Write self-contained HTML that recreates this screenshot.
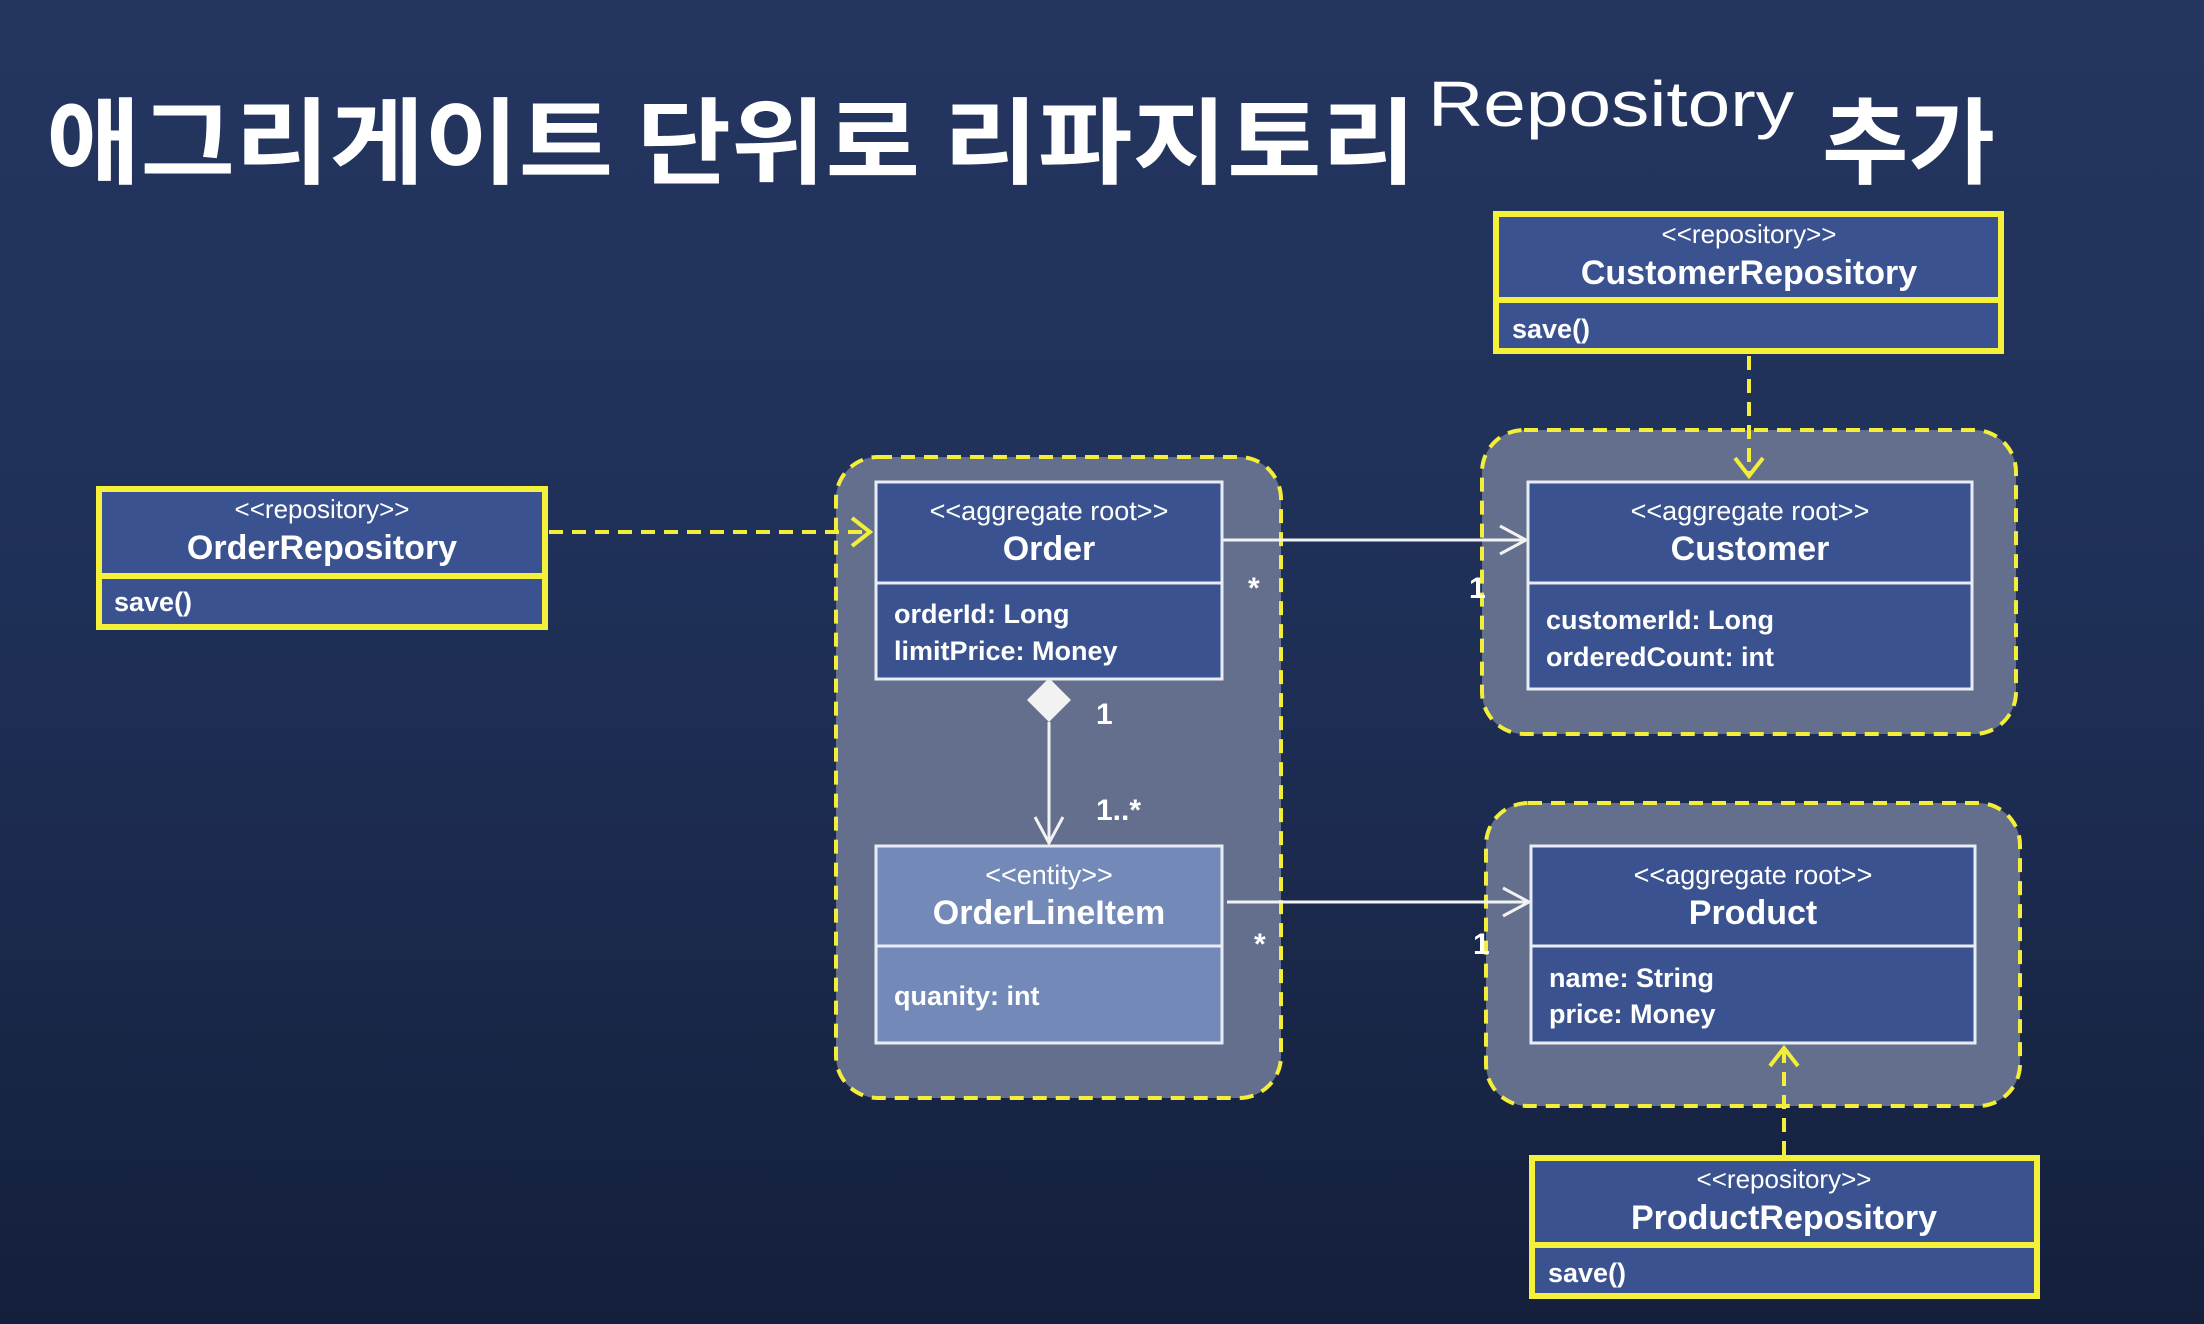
<!DOCTYPE html>
<html><head><meta charset="utf-8"><style>
html,body{margin:0;padding:0;}
body{width:2204px;height:1324px;overflow:hidden;background:linear-gradient(180deg,#24365f 0%,#1f3058 45%,#141f3b 100%);font-family:"Liberation Sans","Noto Sans CJK KR",sans-serif;}
svg{position:absolute;left:0;top:0;}
</style></head><body>
<svg width="2204" height="1324" viewBox="0 0 2204 1324" xmlns="http://www.w3.org/2000/svg" font-family="Liberation Sans, Noto Sans CJK KR, sans-serif">
<text x="46" y="176" fill="#fff" font-size="94" font-weight="bold" font-family="Noto Sans CJK KR, sans-serif" textLength="1370" lengthAdjust="spacingAndGlyphs">애그리게이트 단위로 리파지토리</text>
<text x="1428" y="126" fill="#fff" font-size="64" textLength="366" lengthAdjust="spacingAndGlyphs">Repository</text>
<text x="1822" y="176" fill="#fff" font-size="94" font-weight="bold" font-family="Noto Sans CJK KR, sans-serif">추가</text>

<g fill="#636f8c" stroke="#f2ee3a" stroke-width="4" stroke-dasharray="14 9">
<rect x="836" y="457" width="445" height="641" rx="42"/>
<rect x="1482" y="430" width="534" height="304" rx="42"/>
<rect x="1486" y="803" width="534" height="303" rx="42"/>
</g>

<g stroke="#f2f2f2" stroke-width="3" fill="none">
<line x1="1222" y1="540" x2="1526" y2="540"/>
<polyline points="1500,526 1526,540 1500,554"/>
<line x1="1227" y1="902" x2="1529" y2="902"/>
<polyline points="1503,888 1529,902 1503,916"/>
<line x1="1049" y1="722" x2="1049" y2="843"/>
<polyline points="1035,817 1049,843 1063,817"/>
</g>
<polygon points="1049,678 1071,700 1049,722 1027,700" fill="#f2f2f2"/>
<g fill="#fff" font-size="30" font-weight="bold">
<text x="1248" y="598">*</text>
<text x="1096" y="724">1</text>
<text x="1096" y="820">1..*</text>
<text x="1254" y="954">*</text>
<text x="1469" y="598">1</text>
<text x="1473" y="954">1</text>
</g>
<g stroke="#f2ee3a" stroke-width="4" fill="none" stroke-dasharray="14 9">
<line x1="549" y1="532" x2="868" y2="532"/>
<line x1="1749" y1="356" x2="1749" y2="476"/>
<line x1="1784" y1="1155" x2="1784" y2="1050"/>
</g>
<g stroke="#f2ee3a" stroke-width="4" fill="none">
<polyline points="852,518 870,532 852,546"/>
<polyline points="1735,458 1749,476 1763,458"/>
<polyline points="1770,1066 1784,1048 1798,1066"/>
</g>

<g stroke="#e8ecf5" stroke-width="3">
<rect x="876" y="482" width="346" height="197" fill="#3a5390"/>
<line x1="876" y1="583" x2="1222" y2="583"/>
<rect x="876" y="846" width="346" height="197" fill="#7389b8"/>
<line x1="876" y1="946" x2="1222" y2="946"/>
<rect x="1528" y="482" width="444" height="207" fill="#3a5390"/>
<line x1="1528" y1="583" x2="1972" y2="583"/>
<rect x="1531" y="846" width="444" height="197" fill="#3a5390"/>
<line x1="1531" y1="946" x2="1975" y2="946"/>
</g>
<g fill="#fff" text-anchor="middle">
<text x="1049" y="520" font-size="27">&lt;&lt;aggregate root&gt;&gt;</text>
<text x="1049" y="560" font-size="34" font-weight="bold">Order</text>
<text x="1049" y="884" font-size="27">&lt;&lt;entity&gt;&gt;</text>
<text x="1049" y="924" font-size="34" font-weight="bold">OrderLineItem</text>
<text x="1750" y="520" font-size="27">&lt;&lt;aggregate root&gt;&gt;</text>
<text x="1750" y="560" font-size="34" font-weight="bold">Customer</text>
<text x="1753" y="884" font-size="27">&lt;&lt;aggregate root&gt;&gt;</text>
<text x="1753" y="924" font-size="34" font-weight="bold">Product</text>
</g>
<g fill="#fff" font-size="27" font-weight="bold">
<text x="894" y="623">orderId: Long</text>
<text x="894" y="660">limitPrice: Money</text>
<text x="894" y="1005">quanity: int</text>
<text x="1546" y="629">customerId: Long</text>
<text x="1546" y="666">orderedCount: int</text>
<text x="1549" y="987">name: String</text>
<text x="1549" y="1023">price: Money</text>
</g>

<g stroke="#f5f03a" stroke-width="6" fill="#3a5390">
<rect x="1496" y="214" width="505" height="137"/>
<line x1="1496" y1="300" x2="2001" y2="300"/>
<rect x="99" y="489" width="446" height="138"/>
<line x1="99" y1="576" x2="545" y2="576"/>
<rect x="1532" y="1158" width="505" height="138"/>
<line x1="1532" y1="1245" x2="2037" y2="1245"/>
</g>
<g fill="#fff" text-anchor="middle">
<text x="1749" y="243" font-size="26">&lt;&lt;repository&gt;&gt;</text>
<text x="1749" y="284" font-size="34" font-weight="bold">CustomerRepository</text>
<text x="322" y="518" font-size="26">&lt;&lt;repository&gt;&gt;</text>
<text x="322" y="559" font-size="34" font-weight="bold">OrderRepository</text>
<text x="1784" y="1188" font-size="26">&lt;&lt;repository&gt;&gt;</text>
<text x="1784" y="1229" font-size="34" font-weight="bold">ProductRepository</text>
</g>
<g fill="#fff" font-size="27" font-weight="bold">
<text x="1512" y="338">save()</text>
<text x="114" y="611">save()</text>
<text x="1548" y="1282">save()</text>
</g>
</svg>
</body></html>
